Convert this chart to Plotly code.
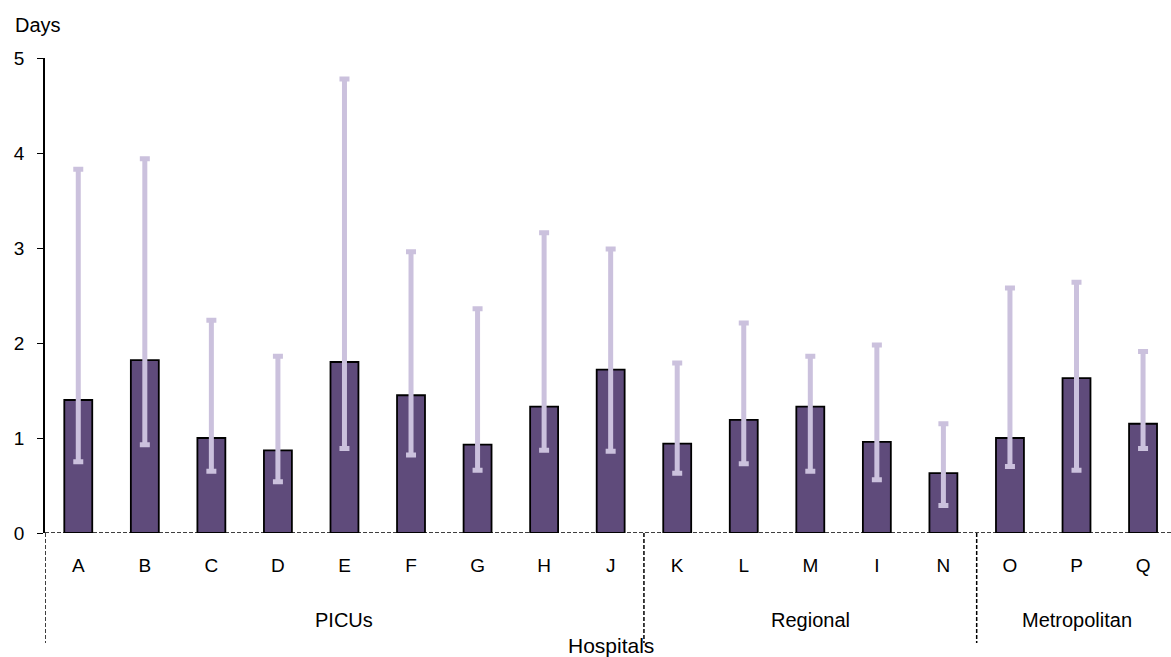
import plotly.graph_objects as go

hospitals = ["A", "B", "C", "D", "E", "F", "G", "H", "J", "K", "L", "M", "I", "N", "O", "P", "Q"]
days = [1.40, 1.82, 1.00, 0.87, 1.80, 1.45, 0.93, 1.33, 1.72, 0.94, 1.19, 1.33, 0.96, 0.63, 1.00, 1.63, 1.15]
upper = [3.83, 3.94, 2.24, 1.86, 4.78, 2.96, 2.36, 3.16, 2.99, 1.79, 2.21, 1.86, 1.98, 1.15, 2.58, 2.64, 1.91]
lower = [0.75, 0.93, 0.65, 0.54, 0.89, 0.82, 0.66, 0.87, 0.86, 0.63, 0.73, 0.65, 0.56, 0.29, 0.70, 0.66, 0.89]
groups = ["PICUs", "Regional", "Metropolitan"]
group_sizes = [9, 5, 3]
y_ticks = [0, 1, 2, 3, 4, 5]

FONT = "Liberation Sans, Arial, sans-serif"
W, H = 1171, 657
L, T, B = 45, 58, 124
PH = H - T - B  # plot height in px

def py(px):
    """pixel row (from top of page) -> paper y"""
    return (H - B - px) / PH

fig = go.Figure()
fig.add_trace(go.Bar(
    x=hospitals, y=days,
    marker=dict(color="#5f4b7b", line=dict(color="black", width=1.8)),
    width=0.42,
    error_y=dict(type="data", symmetric=False,
                 array=[u - v for u, v in zip(upper, days)],
                 arrayminus=[v - l for v, l in zip(days, lower)],
                 color="#cbc1dd", thickness=5, width=5),
    showlegend=False,
))

shapes = []
shapes.append(dict(type="line", xref="paper", yref="y", x0=0, x1=1, y0=0, y1=0,
                   line=dict(color="black", width=1.5, dash="4px,2px")))
annotations = []
start = 0
seps = [-0.5]
for g, n in zip(groups, group_sizes):
    end = start + n
    seps.append(end - 0.5)
    annotations.append(dict(x=(start + end - 1) / 2, y=py(620), xref="x", yref="paper",
                            text=g, showarrow=False, font=dict(size=20, family=FONT, color="black"),
                            yanchor="middle"))
    start = end
for s in seps[:-1]:
    shapes.append(dict(type="line", xref="x", yref="paper", x0=s, x1=s, y0=0, y1=py(643),
                       line=dict(color="black", width=1.5, dash="4px,2px")))

annotations.append(dict(x=8, y=py(645), xref="x", yref="paper", text="Hospitals",
                        showarrow=False, font=dict(size=21, family=FONT, color="black"),
                        yanchor="middle"))
annotations.append(dict(x=(13 - L) / (W - L), y=py(25), xref="paper", yref="paper", text="Days",
                        showarrow=False, font=dict(size=20, family=FONT, color="black"),
                        xanchor="left", yanchor="middle"))

fig.update_layout(
    width=W, height=H,
    margin=dict(l=L, r=0, t=T, b=B, pad=0),
    plot_bgcolor="white", paper_bgcolor="white",
    font=dict(family=FONT, size=19, color="black"),
    shapes=shapes,
    annotations=annotations,
    xaxis=dict(range=[-0.5, 16.42], showline=False, showgrid=False, zeroline=False,
               ticks="", tickfont=dict(size=19, family=FONT, color="black"),
               ticklabelstandoff=19),
    yaxis=dict(range=[0, 5], tickvals=y_ticks, showline=True, linecolor="black", linewidth=1.5,
               ticks="outside", ticklen=6, tickcolor="black", showgrid=False, zeroline=False,
               tickfont=dict(size=19, family=FONT, color="black"), ticklabelstandoff=9),
)

fig.write_html("out.html", config={"displayModeBar": False},
               post_script="document.body.style.margin='0';")
